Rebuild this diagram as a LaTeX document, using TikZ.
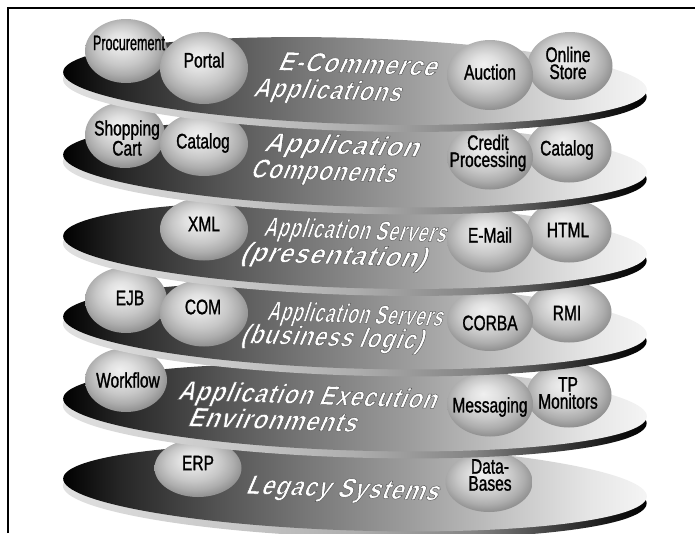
\documentclass[tikz,border=0pt]{standalone}
\usepackage{fontspec}
\usepackage{graphicx}
\usetikzlibrary{shapes.geometric}

\newfontfamily\ballfont[FakeStretch=0.74,FakeBold=1.2]{Liberation Sans}
\newfontfamily\platefont[FakeStretch=0.7,FakeSlant=0.32,FakeBold=1.6,LetterSpace=3]{Liberation Sans Bold}

% top face of a plate: black on the left, nearly white on the right
\pgfdeclarehorizontalshading{platetop}{100bp}{%
  color(0bp)=(black); color(25bp)=(black);
  color(30bp)=(black!85); color(38bp)=(black!68); color(46bp)=(black!53);
  color(55bp)=(black!38); color(63bp)=(black!23); color(70bp)=(black!10);
  color(75bp)=(black!4); color(100bp)=(black!4)}
% edge of a plate: light on the left, black on the right
\pgfdeclarehorizontalshading{platerim}{100bp}{%
  color(0bp)=(black!12); color(25bp)=(black!12); color(40bp)=(black!22);
  color(50bp)=(black!32); color(60bp)=(black!48); color(67bp)=(black!75);
  color(72bp)=(black!92); color(75bp)=(black); color(100bp)=(black)}
% grey ball, lit from the upper left
\pgfdeclareradialshading{sphere}{\pgfpoint{-4bp}{8bp}}{%
  color(0bp)=(black!6); color(8bp)=(black!12); color(16bp)=(black!22);
  color(22bp)=(black!32); color(27bp)=(black!43); color(32bp)=(black!53);
  color(40bp)=(black!58)}

\newcommand\plate[2]{% centre x, centre y
  \begin{scope}[shift={(#1,#2)}, rotate=-1.77]
    \shade[shading=platerim] (0,7) ellipse [x radius=292, y radius=43];
    \shade[shading=platetop] (0,0) ellipse [x radius=292, y radius=43];
  \end{scope}}
% white lettering with a grey edge, stretched to a given width
\newcommand\platetxt[2]{\resizebox{#1pt}{\height}{%
  \special{pdf:bcolor [1] [0.35]}#2\special{pdf:ecolor}}}

\tikzset{
  ball/.style={ellipse, shade, shading=sphere, inner sep=0pt},
  balltext/.style={font=\ballfont\fontsize{21}{17}\selectfont, align=center,
    text=black, inner sep=0pt},
  platetext/.style={font=\platefont\fontsize{27}{27}\selectfont, text=white,
    inner sep=0pt, anchor=base, rotate=-2},
}

\begin{document}
\begin{tikzpicture}[x=1pt, y=-1pt]
\useasboundingbox (0,0) rectangle (695,533);

% ---------- Legacy Systems ----------
\plate{355}{487.5}
\node[ball, minimum width=87pt, minimum height=58pt] (erp) at (198,468) {};
\node[balltext] (erp-t) at (198,463) {ERP};
\node[ball, minimum width=87pt, minimum height=60pt] (databases) at (489,482) {};
\node[balltext] (databases-t) at (490,475) {Data-\\Bases};
\node[platetext] (l6) at (341,497) {\platetxt{192}{Legacy Systems}};

% ---------- Application Execution Environments ----------
\plate{355}{407.5}
\node[ball, minimum width=82pt, minimum height=64pt] (workflow) at (126,380) {};
\node[balltext] (workflow-t) at (128,380) {Workflow};
\node[ball, minimum width=85pt, minimum height=65pt] (tpmonitors) at (569,395) {};
\node[balltext] (tpmonitors-t) at (568,393) {TP\\Monitors};
\node[ball, minimum width=86pt, minimum height=65pt] (messaging) at (490,404) {};
\node[balltext] (messaging-t) at (490,407) {Messaging};
\node[platetext] (l5a) at (306,404) {\platetxt{258}{Application Execution}};
\node[platetext] (l5b) at (271,429) {\platetxt{168}{Environments}};

% ---------- Application Servers (business logic) ----------
\plate{355}{325.5}
\node[ball, minimum width=82pt, minimum height=66pt] (ejb) at (126,300) {};
\node[balltext] (ejb-t) at (130,298) {EJB};
\node[ball, minimum width=88pt, minimum height=67pt] (com) at (204,313) {};
\node[balltext] (com-t) at (203,307) {COM};
\node[ball, minimum width=85pt, minimum height=61pt] (rmi) at (569,312) {};
\node[balltext] (rmi-t) at (567,313) {RMI};
\node[ball, minimum width=86pt, minimum height=62pt] (corba) at (490,320) {};
\node[balltext] (corba-t) at (490,323) {CORBA};
\node[platetext] (l4a) at (354,323) {\platetxt{175}{Application Servers}};
\node[platetext] (l4b) at (331,346) {\platetxt{182}{(business logic)}};

% ---------- Application Servers (presentation) ----------
\plate{355}{245}
\node[ball, minimum width=88pt, minimum height=63pt] (xml) at (204,229) {};
\node[balltext] (xml-t) at (204,224) {XML};
\node[ball, minimum width=85pt, minimum height=63pt] (html) at (569,231) {};
\node[balltext] (html-t) at (568,230) {HTML};
\node[ball, minimum width=86pt, minimum height=65pt] (email) at (490,240) {};
\node[balltext] (email-t) at (490,235) {E-Mail};
\node[platetext] (l3a) at (354,239) {\platetxt{182}{Application Servers}};
\node[platetext] (l3b) at (332,264) {\platetxt{185}{(presentation)}};

% ---------- Application Components ----------
\plate{355}{163.5}
\node[ball, minimum width=80pt, minimum height=66pt] (shoppingcart) at (125,135) {};
\node[balltext] (shoppingcart-t) at (127,138) {Shopping\\Cart};
\node[ball, minimum width=88pt, minimum height=64pt] (catalogA) at (204,144) {};
\node[balltext] (catalogA-t) at (203,143) {Catalog};
\node[ball, minimum width=85pt, minimum height=65pt] (catalogB) at (569,150) {};
\node[balltext] (catalogB-t) at (567,150) {Catalog};
\node[ball, minimum width=86pt, minimum height=65pt] (credit) at (490,157) {};
\node[balltext] (credit-t) at (488,153) {Credit\\Processing};
\node[platetext] (l2a) at (340,154) {\platetxt{154}{Application}};
\node[platetext] (l2b) at (322,180) {\platetxt{145}{Components}};

% ---------- E-Commerce Applications ----------
\plate{355}{81}
\node[ball, minimum width=82pt, minimum height=64pt] (procurement) at (126,51) {};
\node[balltext] (procurement-t) at (129,43) {\resizebox{72pt}{\height}{Procurement}};
\node[ball, minimum width=88pt, minimum height=72pt] (portal) at (204,68) {};
\node[balltext] (portal-t) at (204,60) {Portal};
\node[ball, minimum width=85pt, minimum height=68pt] (onlinestore) at (570,66) {};
\node[balltext] (onlinestore-t) at (568,63) {Online\\Store};
\node[ball, minimum width=86pt, minimum height=70pt] (auction) at (490,75) {};
\node[balltext] (auction-t) at (490,72) {Auction};
\node[platetext] (l1a) at (356,73) {\platetxt{158}{E-Commerce}};
\node[platetext] (l1b) at (326,99) {\platetxt{147}{Applications}};

% ---------- frame ----------
\draw[line width=2.5pt] (8,533) -- (8,8) -- (695,8);
\end{tikzpicture}
\end{document}
